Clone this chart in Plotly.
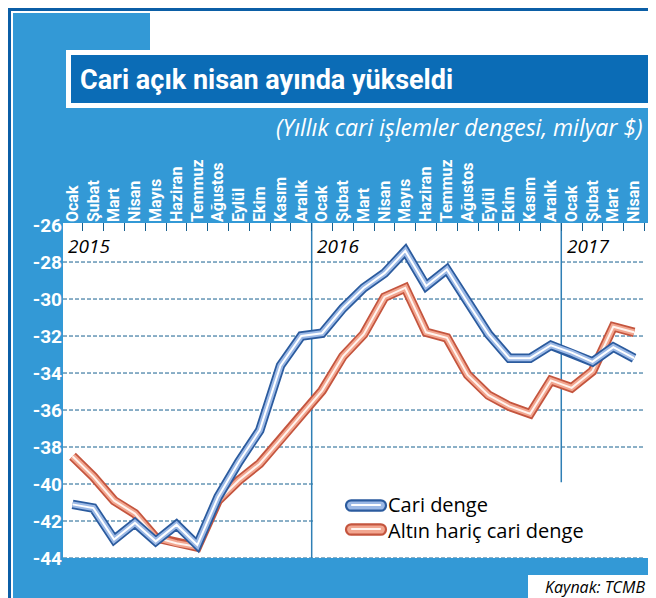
import plotly.graph_objects as go

# ---------------- data ----------------
month_labels = ["Ocak", "Şubat", "Mart", "Nisan", "Mayıs", "Haziran", "Temmuz", "Ağustos",
                "Eylül", "Ekim", "Kasım", "Aralık",
                "Ocak", "Şubat", "Mart", "Nisan", "Mayıs", "Haziran", "Temmuz", "Ağustos",
                "Eylül", "Ekim", "Kasım", "Aralık",
                "Ocak", "Şubat", "Mart", "Nisan"]
years = ["2015", "2016", "2017"]
year_start_index = [0, 12, 24]

cari_denge = [-41.1, -41.3, -43.0, -42.1, -43.1, -42.2, -43.3, -40.7, -38.8, -37.1, -33.6, -32.0,
              -31.85, -30.5, -29.4, -28.6, -27.4, -29.3, -28.4, -30.2, -31.9, -33.2, -33.2, -32.5,
              -32.9, -33.4, -32.6, -33.2]
altin_haric = [-38.5, -39.6, -40.9, -41.6, -42.9, -43.2, -43.4, -40.9, -39.8, -38.9, -37.6, -36.3,
               -34.95, -33.1, -31.9, -29.9, -29.4, -31.8, -32.1, -34.1, -35.2, -35.8, -36.2, -34.4,
               -34.8, -33.9, -31.5, -31.8]
y_ticks = [-26, -28, -30, -32, -34, -36, -38, -40, -42, -44]

title_text = "Cari açık nisan ayında yükseldi"
subtitle_text = "(Yıllık cari işlemler dengesi, milyar $)"
source_text = "Kaynak: TCMB"
series_names = ["Cari denge", "Altın hariç cari denge"]

# ---------------- layout geometry ----------------
FW, FH = 656, 598
L, R, T, B = 55, 650, 215, 550
W, H = R - L, B - T


def px(x):
    return (x - L) / W


def py(y):
    return (B - y) / H


x = list(range(len(month_labels)))
x_lo, x_hi = -0.457, 28.15
y_lo, y_hi = -44.0, -25.89

MID_BLUE = "#3399d6"
DARK_FRAME = "#0b5ea6"
TITLE_BG = "#0b6cb6"
GRID = "#17608f"
VLINE = "#2f7fb5"
COND = "Roboto, Lato, sans-serif"
BODY = "Open Sans, Noto Sans, sans-serif"

BLUE_COLS = ["#2b5b9e", "#9cb9e6", "#ffffff"]
RED_COLS = ["#c4553e", "#f2a690", "#fff4ef"]

fig = go.Figure()

styles = [
    (altin_haric, series_names[1], RED_COLS),
    (cari_denge, series_names[0], BLUE_COLS),
]
for vals, name, cols in styles:
    for k, (c, w) in enumerate(zip(cols, [9.5, 6, 2])):
        fig.add_trace(go.Scatter(
            x=x, y=vals, mode="lines", name=name,
            line=dict(color=c, width=w),
            showlegend=False, hoverinfo="skip"))


def prect(x0, x1, y0, y1, color):
    return dict(type="rect", xref="paper", yref="paper", layer="below",
                x0=px(x0), x1=px(x1), y0=py(y1), y1=py(y0),
                line=dict(width=0), fillcolor=color)


shapes = [
    prect(0, FW, 0, FH, DARK_FRAME),
    prect(3, 653, 3, 595, "white"),
    prect(5, 651, 5, 592, MID_BLUE),
    prect(142, 651, 5, 43, "white"),        # top white strip
    prect(58, 651, 42, 100, "white"),       # title border
    prect(63, 651, 47, 95, TITLE_BG),       # title box
    prect(520, 651, 567, 592, "white"),     # source box
    prect(L, R, T, B, "white"),             # plot area
]

# gridlines (dashed)
for v in y_ticks[1:]:
    shapes.append(dict(type="line", xref="x", yref="y", layer="below",
                       x0=x_lo, x1=len(month_labels) - 0.5, y0=v, y1=v,
                       line=dict(color=GRID, width=1, dash="4px,2px")))
# year separators
shapes.append(dict(type="line", xref="x", yref="y", layer="below",
                   x0=year_start_index[1] - 0.5, x1=year_start_index[1] - 0.5,
                   y0=y_lo, y1=y_hi, line=dict(color=VLINE, width=1.5)))
shapes.append(dict(type="line", xref="x", yref="y", layer="below",
                   x0=year_start_index[2] - 0.5, x1=year_start_index[2] - 0.5,
                   y0=-40, y1=y_hi, line=dict(color=VLINE, width=1.5)))
# legend background (hides a grid line)
shapes.append(dict(type="rect", xref="x", yref="y", layer="below",
                   x0=year_start_index[1] - 0.4, x1=x_hi, y0=-43.9, y1=-39.9,
                   line=dict(width=0), fillcolor="white"))


def pill(x0, x1, yc, r, cols):
    """rounded legend key built from a path in paper coordinates"""
    k = 0.55 * r
    d = (f"M {px(x0 + r)},{py(yc - r)} L {px(x1 - r)},{py(yc - r)} "
         f"C {px(x1 - r + k)},{py(yc - r)} {px(x1)},{py(yc - k)} {px(x1)},{py(yc)} "
         f"C {px(x1)},{py(yc + k)} {px(x1 - r + k)},{py(yc + r)} {px(x1 - r)},{py(yc + r)} "
         f"L {px(x0 + r)},{py(yc + r)} "
         f"C {px(x0 + r - k)},{py(yc + r)} {px(x0)},{py(yc + k)} {px(x0)},{py(yc)} "
         f"C {px(x0)},{py(yc - k)} {px(x0 + r - k)},{py(yc - r)} {px(x0 + r)},{py(yc - r)} Z")
    return [
        dict(type="path", xref="paper", yref="paper", layer="above", path=d,
             fillcolor=cols[1], line=dict(color=cols[0], width=2.2)),
        dict(type="line", xref="paper", yref="paper", layer="above",
             x0=px(x0 + r), x1=px(x1 - r), y0=py(yc - 0.5), y1=py(yc - 0.5),
             line=dict(color=cols[2], width=2)),
    ]


shapes += pill(338, 378, 497.5, 5.2, BLUE_COLS)
shapes += pill(338, 378, 521.5, 5.2, RED_COLS)

annotations = [
    dict(text=title_text, xref="paper", yref="paper", x=px(70), y=py(72),
         xanchor="left", yanchor="middle", showarrow=False,
         font=dict(family=COND, size=27, color="white", weight="bold")),
    dict(text="<i>" + subtitle_text + "</i>", xref="paper", yref="paper", x=px(637), y=py(119),
         xanchor="right", yanchor="middle", showarrow=False,
         font=dict(family=BODY, size=23, color="white")),
    dict(text="<i>" + source_text + "</i>", xref="paper", yref="paper", x=px(639), y=py(579),
         xanchor="right", yanchor="middle", showarrow=False,
         font=dict(family=BODY, size=16, color="black")),
    dict(text=series_names[0] + "<br>" + series_names[1], xref="paper", yref="paper",
         x=px(378), y=py(509.5), xanchor="left", yanchor="middle", align="left",
         showarrow=False, font=dict(family=BODY, size=20, color="black")),
]
for yr, idx in zip(years, year_start_index):
    annotations.append(dict(text="<i>" + yr + "</i>", xref="x", yref="y",
                            x=idx - 0.33, y=-27.15, xanchor="left", yanchor="middle",
                            showarrow=False,
                            font=dict(family=BODY, size=19, color="black")))

fig.update_layout(
    width=FW, height=FH,
    margin=dict(l=L, r=FW - R, t=T, b=FH - B, pad=0),
    paper_bgcolor=MID_BLUE, plot_bgcolor="white",
    shapes=shapes, annotations=annotations,
    showlegend=False,
    xaxis=dict(range=[x_lo, x_hi], side="top", tickmode="array",
               tickvals=x, ticktext=month_labels, tickangle=-90,
               ticks="", showgrid=False, zeroline=False, showline=False,
               tickfont=dict(family=COND, size=16, color="white", weight="bold"),
               minor=dict(tickmode="array",
                          tickvals=[i + 0.5 for i in x],
                          ticks="inside", ticklen=8, tickcolor=GRID, tickwidth=1,
                          showgrid=False)),
    yaxis=dict(range=[y_lo, y_hi], tickmode="array", tickvals=y_ticks,
               ticktext=[str(v) for v in y_ticks],
               ticks="", showgrid=False, zeroline=False, showline=False,
               tickfont=dict(family=COND, size=19, color="white", weight="bold")),
)

fig.write_html("out.html")
